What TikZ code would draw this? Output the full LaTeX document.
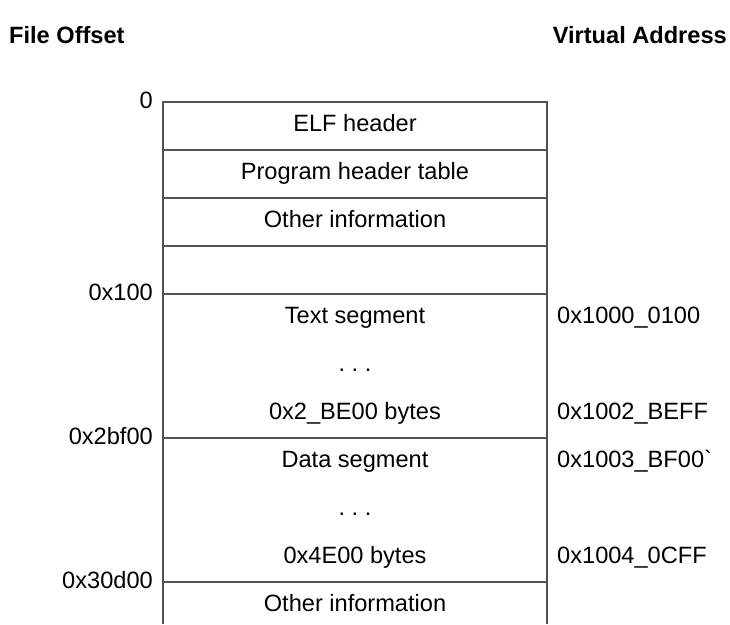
\documentclass[tikz,border=0pt]{standalone}
\usepackage{fontspec}
\setmainfont{Liberation Sans}
\newfontfamily\rawsans{Liberation Sans}[Ligatures=ResetAll]
\begin{document}
\begin{tikzpicture}[x=1pt,y=-1pt,
  rule/.style={draw=black!68,line width=2pt},
  txt/.style={inner sep=0pt,anchor=base,font=\fontsize{23.6}{28}\selectfont},
  off/.style={txt,anchor=base east},
  va/.style={txt,anchor=base west},
  head/.style={inner sep=0pt,font=\fontsize{23.6}{28}\selectfont\bfseries}]
\useasboundingbox (0,0) rectangle (730,624);
% headings
\node[head,anchor=base west] (hfo) at (9,43) {File Offset};
\node[head,anchor=base east] (hva) at (727,43) {Virtual Address};
% frame coordinates
\coordinate (tl) at (163,102);
\coordinate (tr) at (547,102);
\coordinate (bl) at (163,624);
\coordinate (br) at (547,624);
\foreach \n/\y in {l1/150,l2/198,l3/246,l4/294,l5/438,l6/582}{
  \coordinate (\n a) at (163,\y);
  \coordinate (\n b) at (547,\y);
}
\draw[rule] (bl) -- (tl) -- (tr) -- (br);
\foreach \n in {l1,l2,l3,l4,l5,l6}{ \draw[rule] (\n a) -- (\n b); }
% cell texts
\node[txt] (elf) at (355,131) {ELF header};
\node[txt] (pht) at (355,179) {Program header table};
\node[txt] (oi1) at (355,227) {Other information};
\node[txt] (ts)  at (355,323) {Text segment};
\node[txt] (td)  at (355,371) {.\ .\ .};
\node[txt] (tb)  at (355,419) {0x2\_BE00 bytes};
\node[txt] (ds)  at (355,467) {Data segment};
\node[txt] (dd)  at (355,515) {.\ .\ .};
\node[txt] (db)  at (355,563) {0x4E00 bytes};
\node[txt] (oi2) at (355,611) {Other information};
% file offsets
\node[off] (o0) at (153,108) {0};
\node[off] (o1) at (153,300) {0x100};
\node[off] (o2) at (153,444) {0x2bf00};
\node[off] (o3) at (153,588) {0x30d00};
% virtual addresses
\node[va] (v1) at (557,323) {0x1000\_0100};
\node[va] (v2) at (557,419) {0x1002\_BEFF};
\node[va] (v3) at (557,467) {0x1003\_BF00{\rawsans\symbol{96}}};
\node[va] (v4) at (557,563) {0x1004\_0CFF};
\end{tikzpicture}
\end{document}
